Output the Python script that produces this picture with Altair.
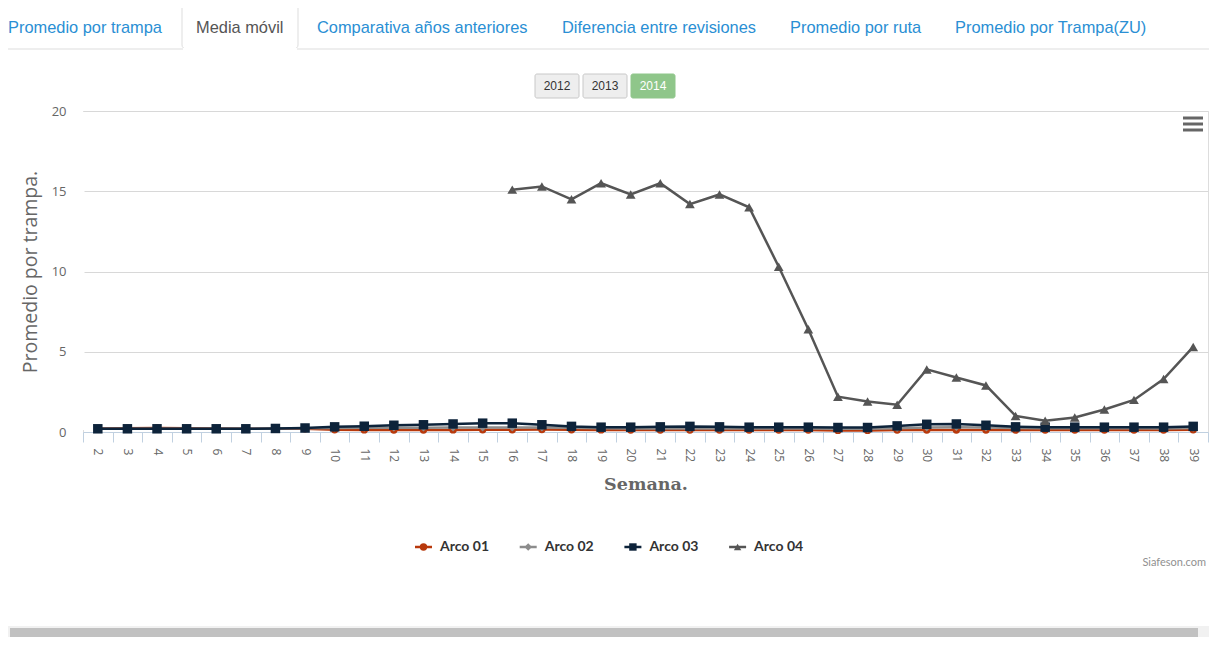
import altair as alt
import pandas as pd

# ---------------- data ----------------
WEEKS = list(range(2, 40))
SERIES = ["Arco 01", "Arco 02", "Arco 03", "Arco 04"]
ARCO_01 = [0.22, 0.24, 0.25, 0.24, 0.22, 0.2, 0.2, 0.2, 0.14, 0.13, 0.12, 0.12, 0.13, 0.14, 0.14,
           0.15, 0.14, 0.13, 0.12, 0.12, 0.12, 0.12, 0.12, 0.12, 0.12, 0.1, 0.1, 0.12, 0.12, 0.12,
           0.12, 0.12, 0.12, 0.12, 0.12, 0.12, 0.12, 0.14]
ARCO_02 = [0.2, 0.2, 0.2, 0.2, 0.2, 0.2, 0.22, 0.24, 0.25, 0.26, 0.27, 0.27, 0.28, 0.28, 0.28,
           0.28, 0.26, 0.24, 0.22, 0.22, 0.22, 0.22, 0.22, 0.22, 0.22, 0.2, 0.2, 0.24, 0.28, 0.3,
           0.28, 0.25, 0.24, 0.24, 0.24, 0.23, 0.22, 0.25]
ARCO_03 = [0.2, 0.2, 0.2, 0.2, 0.2, 0.2, 0.22, 0.25, 0.32, 0.36, 0.42, 0.45, 0.5, 0.55, 0.55,
           0.45, 0.35, 0.3, 0.3, 0.32, 0.35, 0.32, 0.3, 0.3, 0.3, 0.28, 0.28, 0.38, 0.48, 0.5,
           0.42, 0.32, 0.3, 0.3, 0.3, 0.3, 0.3, 0.35]
ARCO_04 = [None] * 14 + [15.1, 15.3, 14.5, 15.5, 14.8, 15.5, 14.2, 14.8, 14.0, 10.3, 6.4, 2.2,
                         1.9, 1.7, 3.9, 3.4, 2.9, 1.0, 0.7, 0.9, 1.4, 2.0, 3.3, 5.3]
Y_TICKS = [0, 5, 10, 15, 20]
TABS = ["Promedio por trampa", "Media móvil", "Comparativa años anteriores",
        "Diferencia entre revisiones", "Promedio por ruta", "Promedio por Trampa(ZU)"]
ACTIVE_TAB = "Media móvil"
YEARS = ["2012", "2013", "2014"]
ACTIVE_YEAR = "2014"
X_TITLE = "Semana."
Y_TITLE = "Promedio por trampa."
CREDIT = "Siafeson.com"

# ---------------- styles / layout ----------------
COLORS = ["#b8390c", "#8c8c8c", "#0d233a", "#555555"]
SHAPES = ["circle", "diamond", "square", "triangle-up"]
SIZES = [55, 60, 90, 95]
WIDTHS = [2.5, 2.5, 2.5, 2.5]
W, H = 1125, 321
PAD = {"left": 75, "top": 103, "right": 1, "bottom": 205}
TAB_X = [-75, 113, 234, 479, 707, 872]
YEAR_X = [452, 500, 548]
LEG_X0, LEG_STEP, LEG_Y = 332, 104.7, 436

one = pd.DataFrame({"k": [0]})

rows = []
for name, vals in zip(SERIES, [ARCO_01, ARCO_02, ARCO_03, ARCO_04]):
    for w, v in zip(WEEKS, vals):
        if v is not None:
            rows.append({"week": w, "value": v, "series": name})
df = pd.DataFrame(rows)

x_enc = alt.X(
    "week:O",
    sort=WEEKS,
    scale=alt.Scale(type="band", domain=WEEKS, paddingInner=0, paddingOuter=0),
    bandPosition=0.5,
    axis=alt.Axis(
        title=X_TITLE, titleFont="DejaVu Serif", titleFontWeight="bold", titleFontSize=17.5,
        titleColor="#666666", titlePadding=14,
        labelAngle=90, labelFont="Open Sans", labelFontSize=12, labelColor="#666666",
        labelPadding=6, domainColor="#C0D0E0", tickColor="#C0D0E0", tickSize=10,
        tickBand="extent", grid=False, labelOverlap=False, zindex=0,
    ),
)
y_enc = alt.Y(
    "value:Q",
    scale=alt.Scale(domain=[0, 20], nice=False, zero=True),
    axis=alt.Axis(
        title=Y_TITLE, titleFont="Open Sans", titleFontSize=19.5, titleFontWeight="normal",
        titleColor="#666666", titlePadding=11,
        values=Y_TICKS, labelFont="Open Sans", labelFontSize=13, labelColor="#666666",
        labelPadding=17, ticks=False, domain=False, domainOpacity=0,
        gridColor="#d8d8d8", grid=True, zindex=0,
    ),
)

layers = []

# tab bar decorations
layers.append(alt.Chart(one).mark_rule(color="#dddddd", strokeWidth=1).encode(
    x=alt.value(-75), x2=alt.value(W + 1), y=alt.value(-62)))
ai = TABS.index(ACTIVE_TAB)
layers.append(alt.Chart(one).mark_rect(fill="white", stroke="#dddddd", cornerRadius=4).encode(
    x=alt.value(TAB_X[ai] - 14), x2=alt.value(TAB_X[ai] + 102), y=alt.value(-108), y2=alt.value(-62)))
layers.append(alt.Chart(one).mark_rule(color="white", strokeWidth=2).encode(
    x=alt.value(TAB_X[ai] - 13), x2=alt.value(TAB_X[ai] + 101), y=alt.value(-62)))
for t, tx in zip(TABS, TAB_X):
    layers.append(alt.Chart(one).mark_text(
        align="left", baseline="middle", font="Liberation Sans", fontSize=16.4,
        color="#555555" if t == ACTIVE_TAB else "#2a8fd4").encode(
        x=alt.value(tx), y=alt.value(-83), text=alt.value(t)))

# year buttons
for yr, bx in zip(YEARS, YEAR_X):
    act = yr == ACTIVE_YEAR
    layers.append(alt.Chart(one).mark_rect(
        fill="#8fc68a" if act else "#eeeeee", stroke="#8fc68a" if act else "#c8c8c8",
        cornerRadius=2).encode(
        x=alt.value(bx), x2=alt.value(bx + 44), y=alt.value(-37), y2=alt.value(-13)))
    layers.append(alt.Chart(one).mark_text(
        align="center", baseline="middle", font="Liberation Sans", fontSize=12,
        color="white" if act else "#333333").encode(
        x=alt.value(bx + 22), y=alt.value(-25), text=alt.value(yr)))

# hamburger menu icon
for hy in [7, 13, 19]:
    layers.append(alt.Chart(one).mark_rule(color="#666666", strokeWidth=3).encode(
        x=alt.value(1100), x2=alt.value(1120), y=alt.value(hy)))

# data series
for name, col, shp, sz, sw in zip(SERIES, COLORS, SHAPES, SIZES, WIDTHS):
    sub = df[df["series"] == name]
    base = alt.Chart(sub)
    layers.append(base.mark_line(color=col, strokeWidth=sw).encode(x=x_enc, y=y_enc))
    layers.append(base.mark_point(shape=shp, filled=True, size=sz, color=col, opacity=1).encode(
        x=x_enc, y=y_enc))

# legend (manual, Highcharts style)
for i, (name, col, shp) in enumerate(zip(SERIES, COLORS, SHAPES)):
    lx = LEG_X0 + LEG_STEP * i
    layers.append(alt.Chart(one).mark_rule(color=col, strokeWidth=2.5).encode(
        x=alt.value(lx), x2=alt.value(lx + 17), y=alt.value(LEG_Y)))
    layers.append(alt.Chart(one).mark_point(shape=shp, filled=True, size=55, color=col, opacity=1).encode(
        x=alt.value(lx + 8.5), y=alt.value(LEG_Y)))
    layers.append(alt.Chart(one).mark_text(
        align="left", baseline="middle", font="Lato", fontWeight="bold", fontSize=14,
        color="#333333").encode(x=alt.value(lx + 25), y=alt.value(LEG_Y), text=alt.value(name)))

# credit
layers.append(alt.Chart(one).mark_text(
    align="right", baseline="middle", font="Lato", fontSize=11, color="#909090").encode(
    x=alt.value(1123), y=alt.value(452), text=alt.value(CREDIT)))

# horizontal scrollbar (page chrome)
layers.append(alt.Chart(one).mark_rect(fill="#f1f1f1").encode(
    x=alt.value(-75), x2=alt.value(W + 1), y=alt.value(515), y2=alt.value(530)))
layers.append(alt.Chart(one).mark_rect(fill="#c1c1c1").encode(
    x=alt.value(-73), x2=alt.value(1115), y=alt.value(517), y2=alt.value(529)))

# white mask hiding the stray frame edge on the plot's left side (drawn last)
layers.append(alt.Chart(one).mark_rule(color="white", strokeWidth=3).encode(
    x=alt.value(0), y=alt.value(1), y2=alt.value(H - 2)))

chart = alt.layer(*layers).properties(
    width=W, height=H,
    autosize=alt.AutoSizeParams(type="none"),
    padding=PAD,
).configure_view(stroke="transparent", strokeWidth=0).configure_axisY(
    domain=False, ticks=False
).configure_axisX(grid=False).configure(background="white")

chart.save("out.html", embed_options={"renderer": "svg", "actions": False})
